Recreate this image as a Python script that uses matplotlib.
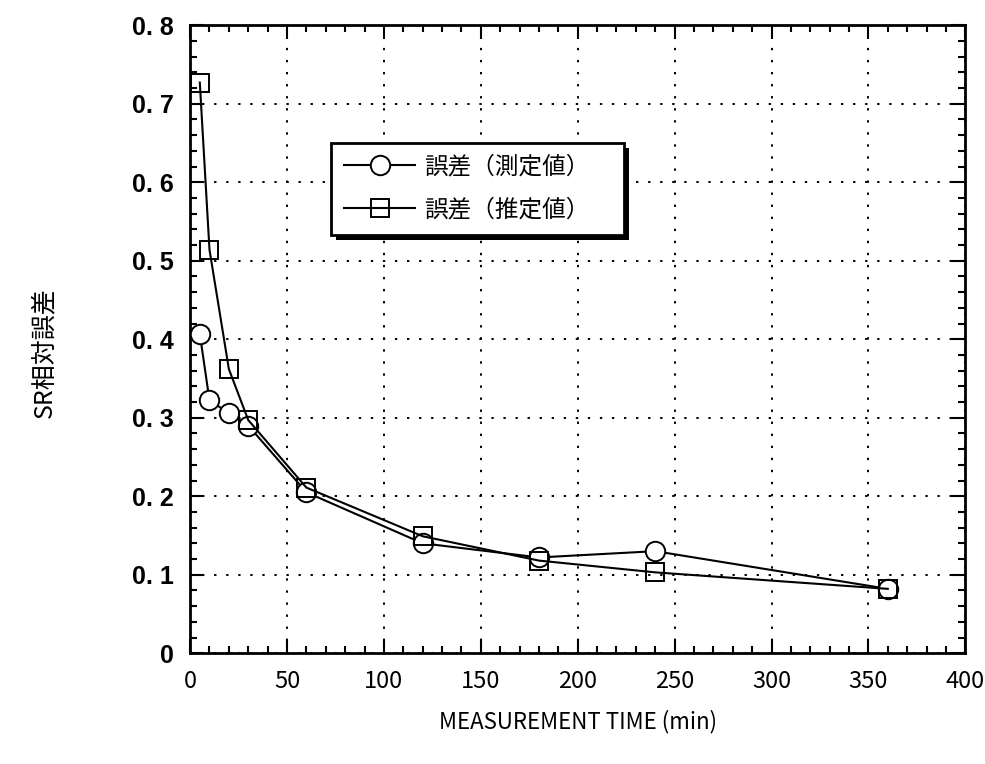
import numpy as np
import matplotlib
matplotlib.use('Agg')
import matplotlib.pyplot as plt
from matplotlib.ticker import MultipleLocator, FuncFormatter
from matplotlib.patches import Rectangle
from matplotlib.transforms import IdentityTransform

plt.rcParams['font.family'] = ['Noto Sans CJK JP', 'DejaVu Sans']

# data
time_min = [5, 10, 20, 30, 60, 120, 180, 240, 360]
err_measured = [0.407, 0.322, 0.306, 0.290, 0.205, 0.140, 0.122, 0.130, 0.082]
err_estimated = [0.727, 0.514, 0.362, 0.297, 0.211, 0.149, 0.118, 0.103, 0.082]
labels = ['誤差（測定値）', '誤差（推定値）']

fig = plt.figure(figsize=(9.85, 7.64), dpi=100)
ax = fig.add_axes([0.193, 0.145, 0.787, 0.822])

ax.plot(time_min, err_measured, color='black', lw=1.5, marker='o', ms=14,
        mfc='white', mec='black', mew=1.4, label=labels[0], zorder=3)
ax.plot(time_min, err_estimated, color='black', lw=1.5, marker='s', ms=13,
        mfc='none', mec='black', mew=1.4, label=labels[1], zorder=3)

ax.set_xlim(0, 400)
ax.set_ylim(0, 0.8)
ax.xaxis.set_major_locator(MultipleLocator(50))
ax.xaxis.set_minor_locator(MultipleLocator(10))
ax.yaxis.set_major_locator(MultipleLocator(0.1))
ax.yaxis.set_minor_locator(MultipleLocator(0.02))
ax.yaxis.set_major_formatter(FuncFormatter(lambda v, p: '0' if abs(v) < 1e-9 else '0. %d' % round(v * 10)))

ax.tick_params(which='both', direction='in', top=True, right=True, width=1.5)
ax.tick_params(which='major', length=10)
ax.tick_params(which='minor', length=5)
ax.tick_params(axis='x', pad=12)
ax.tick_params(axis='y', pad=12)
for lab in ax.get_xticklabels():
    lab.set_fontsize(17)
for lab in ax.get_yticklabels():
    lab.set_family(['Liberation Sans', 'DejaVu Sans'])
    lab.set_fontweight('bold')
    lab.set_fontsize(18)

for sp in ax.spines.values():
    sp.set_linewidth(2)

ax.grid(True, which='major', color='black', lw=1.4, linestyle=(0, (1.2, 5)))

ax.set_xlabel('MEASUREMENT TIME (min)', fontsize=16, labelpad=12)
fig.text(0.045, 0.538, 'SR相対誤差', rotation=90, fontsize=18,
         ha='center', va='center')

leg = ax.legend(loc='upper left', bbox_to_anchor=(0.182, 0.813, 0.378, 0.0),
                mode='expand', borderaxespad=0,
                fancybox=False, framealpha=1, edgecolor='black',
                prop={'size': 17},
                handlelength=3.0, handletextpad=0.4,
                borderpad=0.55, labelspacing=0.85)
leg.get_frame().set_linewidth(2)
leg.set_zorder(6)

# solid black drop shadow under the legend box
fig.canvas.draw()
bb = leg.get_window_extent()
ax.add_patch(Rectangle((bb.x0 + 5, bb.y0 - 5), bb.width, bb.height,
                       transform=IdentityTransform(), facecolor='black',
                       edgecolor='none', zorder=5.5, clip_on=False))

fig.savefig('out.png', dpi=100)
